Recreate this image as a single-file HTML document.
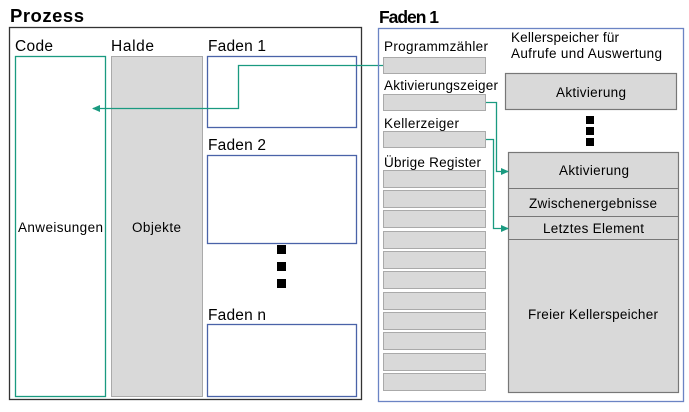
<!DOCTYPE html>
<html><head><meta charset="utf-8"><style>
body{margin:0;background:#fff;}
</style></head><body>
<svg width="689" height="407" xmlns="http://www.w3.org/2000/svg" style="font-family:'Liberation Sans',Arial,sans-serif">
<defs><marker id="a" markerWidth="8" markerHeight="8" refX="7" refY="4" orient="auto" markerUnits="userSpaceOnUse"><path d="M0,0.5 L8,4 L0,7.5 z" fill="#1a9a80"/></marker></defs>
<text x="10" y="22" font-size="18.5" font-weight="bold" textLength="74">Prozess</text>
<rect x="9.5" y="27.5" width="352" height="372" fill="none" stroke="#333" stroke-width="1.3"/>
<text x="15" y="51" font-size="15.5" textLength="38">Code</text>
<text x="111" y="51" font-size="15.5" textLength="43">Halde</text>
<text x="208" y="51" font-size="15.5" textLength="58">Faden 1</text>
<rect x="15.5" y="56.5" width="90" height="340" fill="none" stroke="#1a9a80" stroke-width="1.3"/>
<rect x="111.5" y="56.5" width="91" height="340" fill="#d9d9d9" stroke="#aaa"/>
<text x="18" y="232" font-size="13.5" textLength="85">Anweisungen</text>
<text x="132" y="232" font-size="13.5" textLength="49">Objekte</text>
<rect x="207.5" y="56.5" width="149" height="71" fill="none" stroke="#4a63a8" stroke-width="1.3"/>
<text x="208" y="150" font-size="15.5" textLength="58">Faden 2</text>
<rect x="207.5" y="155.5" width="149" height="88" fill="none" stroke="#4a63a8" stroke-width="1.3"/>
<rect x="277" y="245" width="9" height="9"/><rect x="277" y="262" width="9" height="9"/><rect x="277" y="279" width="9" height="9"/>
<text x="208" y="320" font-size="15.5" textLength="58">Faden n</text>
<rect x="207.5" y="324.5" width="149" height="72" fill="none" stroke="#4a63a8" stroke-width="1.3"/>
<polyline points="384,65.5 238.5,65.5 238.5,108.5 93,108.5" fill="none" stroke="#1a9a80" stroke-width="1.3" marker-end="url(#a)"/>

<text x="379" y="23" font-size="17.5" font-weight="bold" textLength="60">Faden 1</text>
<rect x="378.5" y="28.5" width="305" height="373" fill="none" stroke="#6b84c4" stroke-width="1.3"/>
<text x="511" y="42" font-size="13.5" textLength="108">Kellerspeicher für</text>
<text x="511" y="58" font-size="13.5" textLength="151">Aufrufe und Auswertung</text>
<text x="384" y="51" font-size="13.5" textLength="104">Programmzähler</text>
<text x="384" y="90" font-size="13.5" textLength="114">Aktivierungszeiger</text>
<text x="384" y="128" font-size="13.5" textLength="75">Kellerzeiger</text>
<text x="384" y="167" font-size="13.5" textLength="97">Übrige Register</text>
<g fill="#d9d9d9" stroke="#aaa">
<rect x="383.5" y="57.5" width="102" height="16"/>
<rect x="383.5" y="94.5" width="102" height="16"/>
<rect x="383.5" y="131.5" width="102" height="16"/>
<rect x="383.5" y="170.5" width="102" height="17"/>
<rect x="383.5" y="190.5" width="102" height="17"/>
<rect x="383.5" y="210.5" width="102" height="17"/>
<rect x="383.5" y="231.5" width="102" height="17"/>
<rect x="383.5" y="251.5" width="102" height="17"/>
<rect x="383.5" y="271.5" width="102" height="17"/>
<rect x="383.5" y="292.5" width="102" height="17"/>
<rect x="383.5" y="312.5" width="102" height="17"/>
<rect x="383.5" y="332.5" width="102" height="17"/>
<rect x="383.5" y="353.5" width="102" height="17"/>
<rect x="383.5" y="373.5" width="102" height="17"/>
</g>
<rect x="505.5" y="73.5" width="171" height="36" fill="#d9d9d9" stroke="#777" stroke-width="1.2"/>
<text x="556" y="97" font-size="13.5" textLength="70">Aktivierung</text>
<rect x="586" y="116" width="8" height="8"/><rect x="586" y="127" width="8" height="8"/><rect x="586" y="138" width="8" height="8"/>
<rect x="508.5" y="152.5" width="170" height="240" fill="#d9d9d9" stroke="#777" stroke-width="1.2"/>
<line x1="508" y1="188.5" x2="678" y2="188.5" stroke="#777"/>
<line x1="508" y1="216.5" x2="678" y2="216.5" stroke="#777"/>
<line x1="508" y1="239.5" x2="678" y2="239.5" stroke="#777"/>
<text x="559" y="175" font-size="13.5" textLength="70">Aktivierung</text>
<text x="529" y="208" font-size="13.5" textLength="128">Zwischenergebnisse</text>
<text x="543" y="233" font-size="13.5" textLength="101">Letztes Element</text>
<text x="528" y="319" font-size="13.5" textLength="130">Freier Kellerspeicher</text>
<polyline points="486,102.5 496.5,102.5 496.5,171.5 508,171.5" fill="none" stroke="#1a9a80" stroke-width="1.3" marker-end="url(#a)"/>
<polyline points="486,139.5 493.5,139.5 493.5,228.5 508,228.5" fill="none" stroke="#1a9a80" stroke-width="1.3" marker-end="url(#a)"/>
</svg>
</body></html>
